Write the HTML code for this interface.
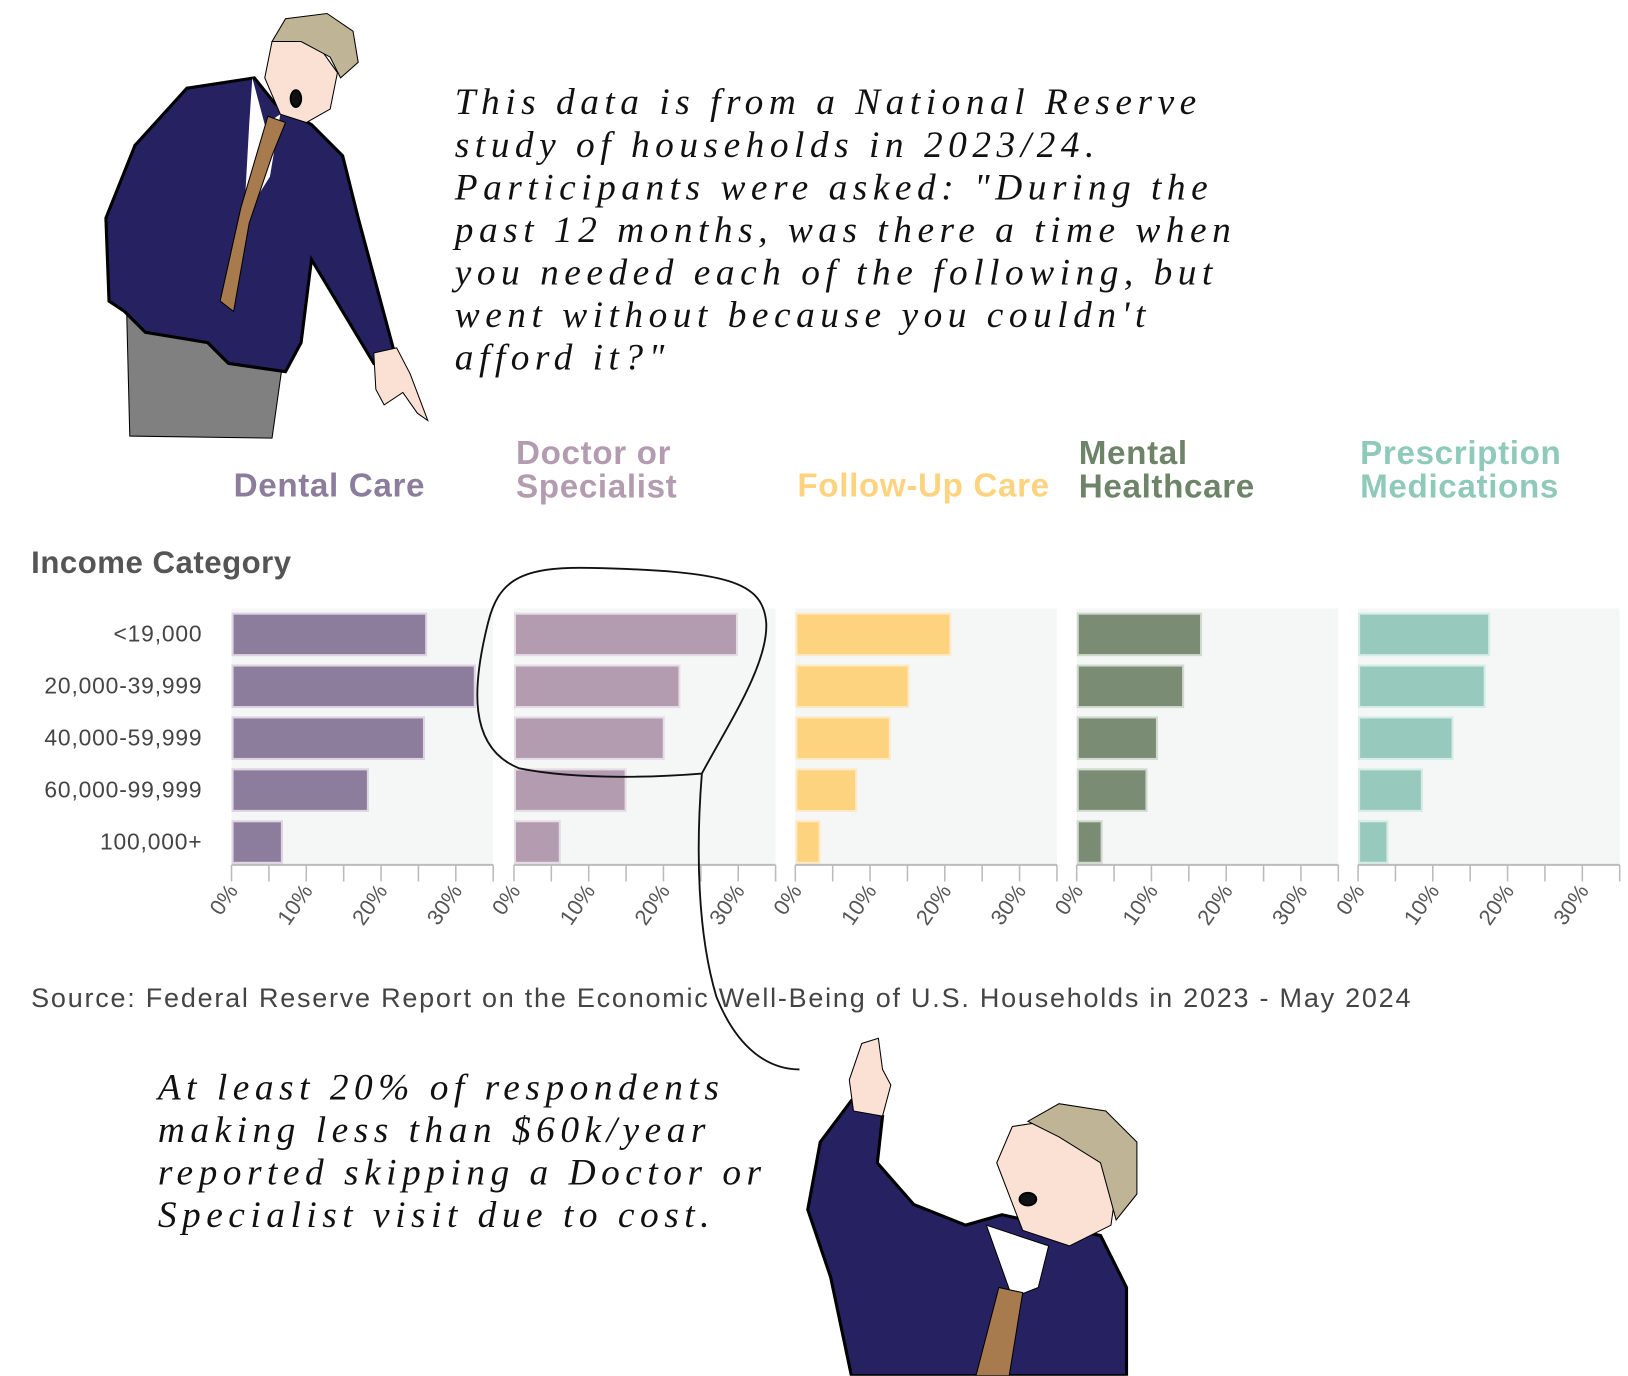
<!DOCTYPE html>
<html><head><meta charset="utf-8">
<style>
html,body{margin:0;padding:0;background:#fff;width:1628px;height:1376px;overflow:hidden}
#wrap{position:absolute;left:0;top:0;width:1568px;height:1325px;transform:scale(1.03827);transform-origin:0 0}
.hand{position:absolute;font-family:"Liberation Serif",serif;font-style:italic;color:#111;font-size:36px;line-height:41px;letter-spacing:5.3px;white-space:pre;margin:0}
.leg{position:absolute;font-family:"Liberation Sans",sans-serif;font-weight:bold;font-size:32px;line-height:32px;letter-spacing:0.6px;margin:0}
</style></head><body>
<div id="wrap">
<svg width="1568" height="1325" style="position:absolute;left:0;top:0">
 <g stroke="#000" stroke-width="2">
  <polygon points="125,420 122,300 150,280 260,290 275,330 262,422" fill="#808080" stroke-width="1"/>
  <polygon points="102,210 130,140 180,85 245,75 265,100 300,120 330,150 345,210 380,340 360,350 330,300 300,250 290,330 275,358 220,350 200,330 140,320 120,300 105,290" fill="#262262" stroke-width="3"/>
  <polygon points="243,75 255,120 270,110 260,170 235,210 240,120" fill="#fff" stroke-width="0"/>
  <polygon points="258,112 275,118 262,150 240,215 225,300 212,290 232,200" fill="#a87b4f" stroke-width="1"/>
  <polygon points="255,75 262,40 300,35 325,70 318,105 295,118 270,110" fill="#fbe1d4" stroke-width="1"/>
  <polygon points="262,40 275,18 315,13 340,30 345,60 328,75 318,55 290,40" fill="#bfb596" stroke-width="1"/>
  <path d="M360,340 L382,335 L395,360 L412,405 L402,398 L388,378 L370,390 L362,375 Z" fill="#fbe1d4" stroke-width="1"/>
  <ellipse cx="285" cy="95" rx="5" ry="8" fill="#111"/>
 </g>
 <g stroke="#000" stroke-width="2">
  <polygon points="778,1165 790,1100 820,1060 850,1075 845,1120 880,1160 930,1180 965,1170 1010,1180 1060,1190 1085,1240 1085,1325 820,1325 800,1230" fill="#262262" stroke-width="3"/>
  <polygon points="950,1180 975,1250 1000,1240 1010,1200" fill="#fff" stroke-width="1"/>
  <polygon points="962,1240 985,1245 972,1325 940,1325" fill="#a87b4f" stroke-width="1"/>
  <polygon points="818,1040 830,1005 846,1000 850,1030 858,1045 850,1075 822,1070" fill="#fbe1d4" stroke-width="1"/>
  <polygon points="960,1120 975,1085 1040,1075 1080,1110 1070,1180 1030,1200 985,1185" fill="#fbe1d4" stroke-width="1"/>
  <polygon points="990,1080 1020,1063 1065,1070 1095,1100 1095,1150 1075,1175 1060,1120 1020,1095" fill="#bfb596" stroke-width="1"/>
  <ellipse cx="990" cy="1155" rx="8" ry="6" fill="#111"/>
 </g>
</svg>

<p class="hand" style="left:438px;top:78px">This data is from a National Reserve
study of households in 2023/24.
Participants were asked: "During the
past 12 months, was there a time when
you needed each of the following, but
went without because you couldn't
afford it?"</p>

<p class="hand" style="left:152px;top:1027px">At least 20% of respondents
making less than $60k/year
reported skipping a Doctor or
Specialist visit due to cost.</p>

<p class="leg" style="left:225px;top:451px;color:#8b7d9b">Dental Care</p>
<p class="leg" style="left:497px;top:420px;color:#b39cb0">Doctor or<br>Specialist</p>
<p class="leg" style="left:768px;top:451px;color:#fdd380">Follow-Up Care</p>
<p class="leg" style="left:1039px;top:420px;color:#6e8468">Mental<br>Healthcare</p>
<p class="leg" style="left:1310px;top:420px;color:#8fcab9">Prescription<br>Medications</p>

<p style="position:absolute;left:30px;top:526px;margin:0;font:bold 30px 'Liberation Sans',sans-serif;letter-spacing:0.5px;color:#555">Income Category</p>
<p style="position:absolute;left:30px;top:946px;margin:0;font:26px 'Liberation Sans',sans-serif;letter-spacing:1.7px;color:#444">Source: Federal Reserve Report on the Economic Well-Being of U.S. Households in 2023 - May 2024</p>

<svg id="chart" width="1568" height="940" style="position:absolute;left:0;top:0"></svg>
<svg width="1568" height="1325" style="position:absolute;left:0;top:0;pointer-events:none">
 <path d="M676,745 C700,700 740,640 738,600 C735,560 700,550 570,547 C500,545 480,560 470,600 C455,660 450,720 500,740 C560,752 640,748 676,745 C670,820 672,900 690,960 C710,1010 740,1030 770,1030" fill="none" stroke="#111" stroke-width="1.8"/>
</svg>
</div>
<script>
const categories = ["<19,000","20,000-39,999","40,000-59,999","60,000-99,999","100,000+"];
const dental = [25.9,32.4,25.6,18.1,6.6];
const doctor = [29.7,22.0,19.9,14.8,6.0];
const followUp = [20.6,15.0,12.5,8.0,3.1];
const mental = [16.5,14.1,10.6,9.2,3.2];
const prescription = [17.4,16.8,12.5,8.4,3.8];
const tickLabels = ["0%","10%","20%","30%"];
const tickValues = [0,10,20,30];

const seriesList=[dental,doctor,followUp,mental,prescription];
const seriesNames=["dental","doctor","follow-up","mental","prescription"];
const fills=["#8b7d9b","#b39cb0","#fdd380","#7a8c74","#98c9bd"];
const strokes=["#ddd3e3","#e6dce6","#fde9c4","#d2d9cf","#d6ece6"];
const panelX=[223,495,766,1037,1308], panelW=252, maxV=35;
const top0=586, rowH=50, barH=40, axisY=833;
const NS="http://www.w3.org/2000/svg";
const svg=document.getElementById('chart');
function mk(t,a){const e=document.createElementNS(NS,t);for(const k in a)e.setAttribute(k,a[k]);svg.appendChild(e);return e;}
function xs(p,v){return panelX[p]+v/maxV*panelW;}
function ys(i){return top0+5+i*rowH;}
categories.forEach((c,i)=>{
  const t=mk('text',{x:195,y:ys(i)+barH/2+7,'text-anchor':'end','font-family':'Liberation Sans, sans-serif','font-size':22,'letter-spacing':0.8,fill:'#444'});
  t.textContent=c;
  
  
});
seriesList.forEach((s,p)=>{
  const bg=mk('rect',{x:panelX[p],y:top0,width:panelW,height:axisY-top0,fill:'#f5f7f6'});
  
  
  s.forEach((v,i)=>{
    const r=mk('rect',{x:xs(p,0)+1,y:ys(i),width:xs(p,v)-xs(p,0),height:barH,fill:fills[p],stroke:strokes[p],'stroke-width':2});
    
    
  });
  const ax=mk('line',{x1:panelX[p],x2:panelX[p]+panelW,y1:axisY,y2:axisY,stroke:'#bbb','stroke-width':2});
  
  
  for(let v=0;v<=maxV;v+=5){
    const tk=mk('line',{x1:xs(p,v),x2:xs(p,v),y1:axisY,y2:axisY+16,stroke:'#bbb','stroke-width':1.5});
    
    
  }
  tickValues.forEach((v,k)=>{
    const x=xs(p,v)+7,y=axisY+25;
    const t=mk('text',{x:x,y:y,'text-anchor':'end','font-family':'Liberation Sans, sans-serif','font-size':21,fill:'#555',transform:`rotate(-55 ${x} ${y})`});
    t.textContent=tickLabels[k];
    
    
  });
});
</script>
</body></html>
